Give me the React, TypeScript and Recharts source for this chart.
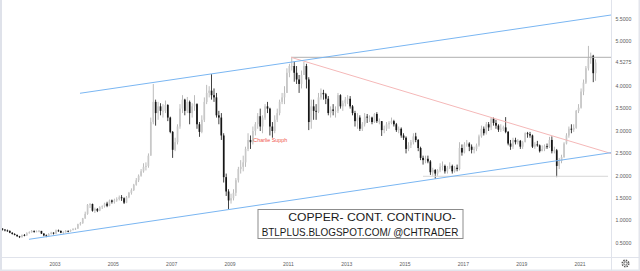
import { ComposedChart, Bar, XAxis, YAxis, ReferenceLine } from "recharts";

// Monthly copper futures candles, Mar 2001 .. Jul 2021.
const START_YEAR = 2001;
const START_MONTH = 3; // first candle = March 2001
const FIRST_OPEN = 0.82;

// one line per year
const closes = [
  0.8, 0.78, 0.77, 0.73, 0.7, 0.68, 0.65, 0.63, 0.68, 0.67, // 2001 (Mar-Dec)
  0.72, 0.74, 0.77, 0.75, 0.76, 0.77, 0.71, 0.67, 0.66, 0.7, 0.73, 0.71, // 2002
  0.78, 0.77, 0.73, 0.74, 0.77, 0.76, 0.79, 0.81, 0.82, 0.92, 0.94, 1.05, // 2003
  1.15, 1.35, 1.37, 1.22, 1.26, 1.22, 1.3, 1.32, 1.38, 1.33, 1.45, 1.42, // 2004
  1.45, 1.48, 1.52, 1.5, 1.4, 1.52, 1.62, 1.68, 1.8, 1.9, 2.0, 2.1, // 2005
  2.2, 2.22, 2.45, 3.2, 3.65, 3.4, 3.55, 3.45, 3.45, 3.58, 3.3, 2.98, // 2006
  2.58, 2.75, 3.1, 3.5, 3.7, 3.45, 3.65, 3.4, 3.55, 3.6, 3.15, 2.98, // 2007
  3.25, 3.65, 3.85, 3.9, 3.8, 3.75, 3.35, 3.3, 2.9, 1.97, 1.65, 1.45, // 2008
  1.5, 1.62, 1.9, 2.15, 2.2, 2.3, 2.6, 2.8, 2.75, 3.0, 3.15, 3.33, // 2009
  3.1, 3.3, 3.55, 3.5, 3.1, 3.0, 3.25, 3.4, 3.65, 3.75, 3.85, 4.3, // 2010
  4.45, 4.45, 4.3, 4.15, 4.05, 4.25, 4.45, 4.15, 3.2, 3.55, 3.45, 3.43, // 2011
  3.75, 3.85, 3.82, 3.72, 3.4, 3.48, 3.45, 3.45, 3.8, 3.55, 3.62, 3.7, // 2012
  3.72, 3.55, 3.4, 3.22, 3.3, 3.05, 3.15, 3.32, 3.3, 3.3, 3.2, 3.38, // 2013
  3.22, 3.22, 3.02, 3.05, 3.15, 3.18, 3.22, 3.15, 3.02, 3.05, 2.9, 2.85, // 2014
  2.6, 2.68, 2.75, 2.88, 2.8, 2.62, 2.4, 2.35, 2.38, 2.32, 2.08, 2.13, // 2015
  2.05, 2.12, 2.2, 2.22, 2.1, 2.18, 2.22, 2.1, 2.18, 2.15, 2.62, 2.52, // 2016
  2.7, 2.72, 2.65, 2.58, 2.6, 2.68, 2.88, 3.05, 2.95, 3.15, 3.08, 3.28, // 2017
  3.18, 3.12, 3.03, 3.05, 3.08, 2.98, 2.72, 2.65, 2.8, 2.75, 2.78, 2.65, // 2018
  2.75, 2.95, 2.93, 2.9, 2.65, 2.7, 2.68, 2.55, 2.6, 2.66, 2.64, 2.8, // 2019
  2.55, 2.57, 2.22, 2.33, 2.42, 2.72, 2.9, 3.05, 3.03, 3.07, 3.45, 3.52, // 2020
  3.88, 4.08, 4.4, 4.62, 4.68, 4.29, 4.5275, // 2021 (Jan-Jul)
];

const highs = [
  0.83, 0.81, 0.8, 0.78, 0.74, 0.72, 0.69, 0.66, 0.69, 0.7,
  0.74, 0.76, 0.79, 0.78, 0.78, 0.79, 0.77, 0.72, 0.69, 0.72, 0.75, 0.74,
  0.8, 0.8, 0.78, 0.76, 0.79, 0.78, 0.8, 0.83, 0.84, 0.93, 0.97, 1.06,
  1.2, 1.37, 1.39, 1.38, 1.29, 1.28, 1.32, 1.34, 1.4, 1.42, 1.47, 1.47,
  1.49, 1.52, 1.56, 1.57, 1.52, 1.55, 1.64, 1.72, 1.82, 1.95, 2.03, 2.15,
  2.28, 2.3, 2.5, 3.3, 4.05, 3.7, 3.65, 3.62, 3.6, 3.68, 3.6, 3.32,
  3.0, 2.85, 3.15, 3.6, 3.8, 3.72, 3.76, 3.68, 3.62, 3.8, 3.62, 3.2,
  3.35, 3.75, 4.03, 4.0, 4.27, 3.95, 3.85, 3.45, 3.4, 2.95, 2.05, 1.7,
  1.6, 1.7, 1.95, 2.2, 2.35, 2.45, 2.65, 2.95, 2.9, 3.1, 3.2, 3.4,
  3.5, 3.35, 3.6, 3.65, 3.52, 3.2, 3.35, 3.5, 3.7, 3.85, 4.0, 4.4,
  4.5, 4.64, 4.55, 4.45, 4.25, 4.35, 4.54, 4.5, 4.2, 3.7, 3.7, 3.6,
  3.85, 3.95, 3.92, 3.85, 3.78, 3.55, 3.6, 3.55, 3.85, 3.82, 3.68, 3.76,
  3.8, 3.78, 3.58, 3.45, 3.4, 3.35, 3.2, 3.4, 3.38, 3.35, 3.32, 3.4,
  3.42, 3.28, 3.22, 3.12, 3.2, 3.22, 3.3, 3.25, 3.18, 3.1, 3.08, 2.95,
  2.88, 2.75, 2.8, 2.95, 2.96, 2.82, 2.65, 2.45, 2.45, 2.45, 2.35, 2.18,
  2.15, 2.15, 2.28, 2.32, 2.25, 2.22, 2.3, 2.25, 2.22, 2.25, 2.75, 2.7,
  2.75, 2.8, 2.75, 2.7, 2.65, 2.72, 2.92, 3.12, 3.1, 3.2, 3.2, 3.31,
  3.3, 3.25, 3.15, 3.15, 3.12, 3.31, 3.0, 2.8, 2.85, 2.85, 2.82, 2.8,
  2.78, 2.97, 2.98, 2.98, 2.92, 2.75, 2.78, 2.7, 2.68, 2.7, 2.72, 2.87,
  2.88, 2.65, 2.6, 2.4, 2.47, 2.75, 2.95, 3.1, 3.15, 3.15, 3.47, 3.6,
  3.95, 4.15, 4.45, 4.9, 4.75, 4.7, 4.6,
];

const lows = [
  0.78, 0.76, 0.75, 0.72, 0.69, 0.67, 0.64, 0.61, 0.62, 0.65,
  0.66, 0.71, 0.73, 0.73, 0.74, 0.74, 0.7, 0.65, 0.63, 0.65, 0.69, 0.69,
  0.7, 0.75, 0.72, 0.7, 0.73, 0.74, 0.75, 0.78, 0.79, 0.82, 0.89, 0.93,
  1.04, 1.13, 1.28, 1.2, 1.17, 1.19, 1.21, 1.26, 1.29, 1.3, 1.32, 1.38,
  1.38, 1.42, 1.45, 1.44, 1.37, 1.39, 1.5, 1.58, 1.66, 1.78, 1.86, 1.98,
  2.07, 2.12, 2.18, 2.45, 3.15, 3.12, 3.25, 3.35, 3.3, 3.4, 3.22, 2.95,
  2.4, 2.55, 2.7, 3.05, 3.4, 3.35, 3.4, 3.15, 3.3, 3.45, 3.05, 2.87,
  2.95, 3.2, 3.6, 3.75, 3.7, 3.65, 3.3, 3.15, 2.8, 1.85, 1.55, 1.26,
  1.38, 1.45, 1.55, 1.85, 2.05, 2.1, 2.2, 2.55, 2.6, 2.7, 2.9, 3.05,
  3.0, 2.95, 3.25, 3.4, 2.9, 2.85, 2.95, 3.2, 3.35, 3.6, 3.6, 3.85,
  4.2, 4.35, 4.1, 4.05, 3.85, 3.95, 4.25, 3.95, 3.02, 3.05, 3.25, 3.25,
  3.4, 3.7, 3.7, 3.6, 3.35, 3.3, 3.35, 3.3, 3.4, 3.5, 3.45, 3.55,
  3.6, 3.5, 3.35, 3.1, 3.05, 3.0, 3.0, 3.1, 3.18, 3.2, 3.15, 3.18,
  3.18, 3.15, 2.89, 2.95, 3.0, 3.05, 3.15, 3.1, 2.98, 2.95, 2.85, 2.8,
  2.5, 2.55, 2.62, 2.7, 2.75, 2.55, 2.35, 2.25, 2.28, 2.28, 2.02, 2.0,
  1.93, 2.0, 2.08, 2.12, 2.05, 2.05, 2.15, 2.05, 2.07, 2.1, 2.12, 2.45,
  2.5, 2.65, 2.55, 2.5, 2.5, 2.55, 2.65, 2.85, 2.9, 2.92, 3.0, 3.02,
  3.12, 3.05, 2.98, 2.98, 3.0, 2.95, 2.68, 2.58, 2.6, 2.7, 2.7, 2.6,
  2.6, 2.75, 2.85, 2.85, 2.62, 2.6, 2.65, 2.52, 2.55, 2.55, 2.6, 2.62,
  2.5, 2.5, 1.97, 2.15, 2.28, 2.4, 2.7, 2.85, 2.95, 2.98, 3.05, 3.4,
  3.5, 3.8, 4.05, 4.35, 4.5, 4.09, 4.12,
];

const yearTicks = [2003, 2005, 2007, 2009, 2011, 2013, 2015, 2017, 2019, 2021];
const priceTicks = [0.5, 1, 1.5, 2, 2.5, 3, 3.5, 4, 4.5275, 5, 5.5];

// drawn trend lines, in (year, price)
const channelTop = [{ x: 2003.857, y: 3.842 }, { x: 2022.061, y: 5.589 }];
const channelBottom = [{ x: 2002.109, y: 0.583 }, { x: 2022.061, y: 2.516 }];
const downTrend = [{ x: 2011.091, y: 4.645 }, { x: 2022.061, y: 2.498 }];
const topLevel = [{ x: 2011.091, y: 4.645 }, { x: 2022.061, y: 4.645 }];
const bottomLevel = [{ x: 2015.616, y: 1.989 }, { x: 2021.96, y: 1.989 }];

const rows = closes.map((close, i) => {
  const m = START_MONTH - 1 + i;
  return {
    t: START_YEAR + (m + 0.5) / 12,
    open: i === 0 ? FIRST_OPEN : closes[i - 1],
    close,
    high: highs[i],
    low: lows[i],
    range: [lows[i], highs[i]],
  };
});

const FONT = "'Liberation Sans', Arial, sans-serif";

function Candle(props: any) {
  const { x, y, width, height, payload } = props;
  if (!payload) return null;
  const { open, close, high, low } = payload;
  const top = Math.min(y, y + height);
  const h = Math.abs(height);
  const cx = x + width / 2;
  const span = high - low || 1;
  const pix = (v: number) => top + ((high - v) / span) * h;
  const bTop = pix(Math.max(open, close));
  const bBot = pix(Math.min(open, close));
  const up = close >= open;
  return (
    <g>
      <rect x={cx - 0.4} y={top} width={0.8} height={h} fill={up ? "#ababab" : "#151515"} />
      <rect x={cx - 0.85} y={bTop} width={1.7} height={Math.max(bBot - bTop, 0.8)} fill={up ? "#c8c8c8" : "#151515"} />
    </g>
  );
}

function PriceTick(props: any) {
  const { y, payload } = props;
  return (
    <text x={615.5} y={y + 1.8} fontSize={5.2} fill="#5d5d5d" fontFamily={FONT}>
      {Number(payload.value).toFixed(4)}
    </text>
  );
}

function YearTick(props: any) {
  const { x, payload } = props;
  return (
    <text x={x} y={265.8} fontSize={5} fill="#5d5d5d" textAnchor="middle" fontFamily={FONT}>
      {payload.value}
    </text>
  );
}

export default function App() {
  return (
    <div style={{ position: "absolute", left: 0, top: 0, width: 640, height: 271, background: "#fff" }}>
      <ComposedChart width={640} height={271} data={rows} margin={{ top: 0, right: 0, bottom: 0, left: 2 }}>
        <XAxis
          dataKey="t"
          type="number"
          domain={[2001.183, 2022.061]}
          allowDataOverflow
          ticks={yearTicks}
          interval={0}
          height={14}
          tickLine={false}
          axisLine={false}
          tick={<YearTick />}
        />
        <YAxis
          orientation="right"
          type="number"
          domain={[0.1875, 5.924]}
          allowDataOverflow
          ticks={priceTicks}
          interval={0}
          width={29}
          tickLine={false}
          axisLine={false}
          tick={<PriceTick />}
        />
        <Bar dataKey="range" barSize={2} shape={<Candle />} isAnimationActive={false} />
        <ReferenceLine segment={bottomLevel} stroke="#d6d6d6" strokeWidth={1} ifOverflow="visible" />
        <ReferenceLine segment={topLevel} stroke="#b0b0b0" strokeWidth={1} ifOverflow="visible" />
        <ReferenceLine segment={downTrend} stroke="#f5b8b8" strokeWidth={1} ifOverflow="visible" />
        <ReferenceLine segment={channelTop} stroke="#7ab6f2" strokeWidth={1} ifOverflow="visible" />
        <ReferenceLine segment={channelBottom} stroke="#7ab6f2" strokeWidth={1} ifOverflow="visible" />
      </ComposedChart>
      <svg width={640} height={271} style={{ position: "absolute", left: 0, top: 0, pointerEvents: "none" }}>
        <rect x={0} y={0} width={2} height={271} fill="#dfe2ea" />
        <rect x={0} y={269.5} width={640} height={1.5} fill="#e3e5ec" />
        <rect x={638.5} y={0} width={1.5} height={271} fill="#e3e5ec" />
        <line x1={611.5} y1={0} x2={611.5} y2={271} stroke="#e0e3eb" strokeWidth={1} />
        <line x1={2} y1={257.5} x2={640} y2={257.5} stroke="#e0e3eb" strokeWidth={1} />
        <text x={253.3} y={142.2} fontSize={5.5} fill="#f0554f" fontFamily={FONT} textLength={34} lengthAdjust="spacingAndGlyphs">
          Charlie Supph
        </text>
        <rect x={258} y={209.5} width={205} height={29} fill="#fff" stroke="#8c8c8c" strokeWidth={1} />
        <text x={288.3} y={221} fontSize={11} fill="#1a1a1a" fontFamily={FONT} textLength={167.4} lengthAdjust="spacingAndGlyphs">
          COPPER- CONT. CONTINUO-
        </text>
        <text x={261.7} y={235.7} fontSize={11} fill="#1a1a1a" fontFamily={FONT} textLength={196.6} lengthAdjust="spacingAndGlyphs">
          BTLPLUS.BLOGSPOT.COM/ @CHTRADER
        </text>
        <circle cx={625.5} cy={263.5} r={3.2} fill="none" stroke="#555" strokeWidth={1.6} strokeDasharray="1.4 1.1" />
        <circle cx={625.5} cy={263.5} r={1.6} fill="none" stroke="#555" strokeWidth={0.8} />
      </svg>
    </div>
  );
}
